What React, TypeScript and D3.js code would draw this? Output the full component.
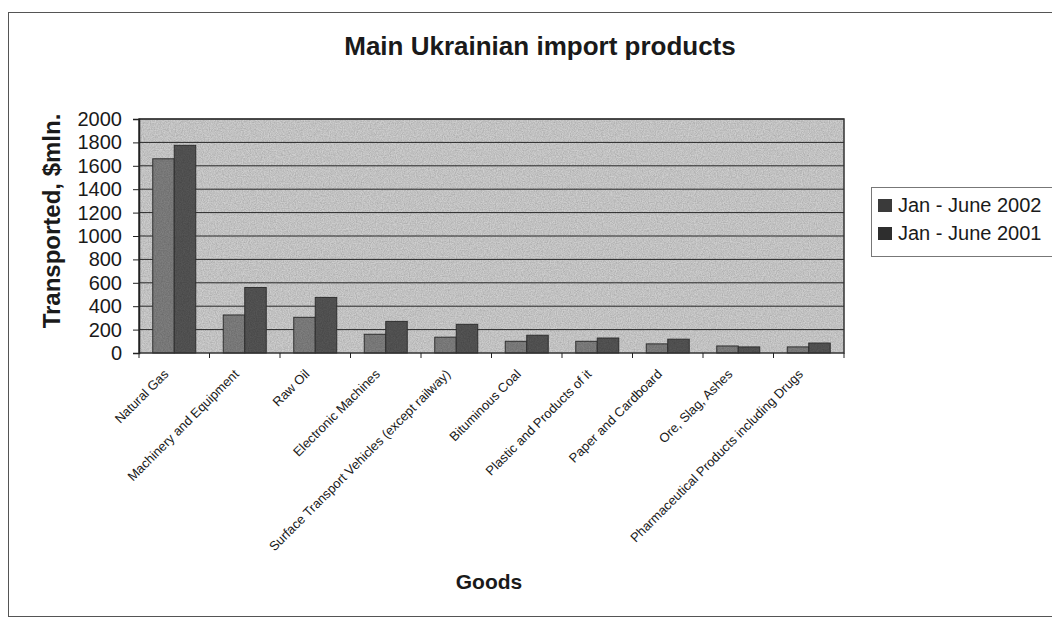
import { useEffect, useRef } from "react";
import * as d3 from "d3";

const categories = [
  "Natural Gas",
  "Machinery and Equipment",
  "Raw Oil",
  "Electronic Machines",
  "Surface Transport Vehicles (except railway)",
  "Bituminous Coal",
  "Plastic and Products of it",
  "Paper and Cardboard",
  "Ore, Slag, Ashes",
  "Pharmaceutical Products including Drugs",
];
const seriesNames = ["Jan - June 2002", "Jan - June 2001"];
const values2002 = [1660, 325, 305, 160, 135, 100, 100, 78, 60, 52];
const values2001 = [1775, 560, 475, 270, 245, 152, 128, 118, 52, 85];
const yTicks = [0, 200, 400, 600, 800, 1000, 1200, 1400, 1600, 1800, 2000];

const FONT = "'Liberation Sans', Arial, sans-serif";
const W = 1052;
const H = 620;

function App() {
  const ref = useRef<SVGSVGElement>(null);

  useEffect(() => {
    const svg = d3.select(ref.current);
    svg.selectAll("*").remove();

    const left = 139, right = 844, top = 119, bottom = 353;
    const x = d3.scaleBand().domain(categories).range([left, right]).padding(0);
    const xs = d3.scaleBand().domain(seriesNames).range([0, x.step()]).paddingInner(0).paddingOuter(0.64);
    const y = d3.scaleLinear().domain([0, 2000]).range([bottom, top]);
    const colors = ["#808080", "#555555"];
    const data = [values2002, values2001];

    // noise for the scanned look
    const defs = svg.append("defs");
    const f = defs.append("filter").attr("id", "noise").attr("x", 0).attr("y", 0).attr("width", "100%").attr("height", "100%");
    f.append("feTurbulence").attr("type", "fractalNoise").attr("baseFrequency", 0.85).attr("numOctaves", 2).attr("seed", 4);
    f.append("feColorMatrix").attr("type", "matrix")
      .attr("values", "0 0 0 0 0  0 0 0 0 0  0 0 0 0 0  0 0 0 -1.2 0.9");

    // outer frame
    svg.append("rect").attr("x", 8.5).attr("y", 12.5).attr("width", W).attr("height", 604)
      .attr("fill", "#fff").attr("stroke", "#555");

    svg.append("text").attr("x", 540).attr("y", 55).attr("text-anchor", "middle")
      .style("font", `bold 26px ${FONT}`).attr("fill", "#1a1a1a").text("Main Ukrainian import products");

    // plot area
    svg.append("rect").attr("x", left).attr("y", top).attr("width", right - left).attr("height", bottom - top)
      .attr("fill", "#cfcfcf");

    svg.append("g").selectAll("line").data(yTicks.slice(1)).join("line")
      .attr("x1", left).attr("x2", right).attr("y1", d => y(d)).attr("y2", d => y(d))
      .attr("stroke", "#2a2a2a").attr("stroke-width", 1);

    const groups = svg.append("g").selectAll("g").data(data).join("g").attr("fill", (_, i) => colors[i]);
    groups.each(function (vals, si) {
      d3.select(this).selectAll("rect").data(vals).join("rect")
        .attr("x", (_, i) => x(categories[i])! + xs(seriesNames[si])!)
        .attr("width", xs.bandwidth())
        .attr("y", d => y(d))
        .attr("height", d => bottom - y(d))
        .attr("stroke", "#333").attr("stroke-width", 1);
    });

    svg.append("rect").attr("x", left).attr("y", top).attr("width", right - left).attr("height", bottom - top)
      .attr("filter", "url(#noise)").attr("opacity", 0.22);

    svg.append("rect").attr("x", left).attr("y", top).attr("width", right - left).attr("height", bottom - top)
      .attr("fill", "none").attr("stroke", "#333").attr("stroke-width", 1.5);

    // y axis
    const yAxis = svg.append("g").attr("transform", `translate(${left},0)`)
      .call(d3.axisLeft(y).tickValues(yTicks).tickFormat(d3.format("d")).tickSize(6).tickPadding(11));
    yAxis.select(".domain").attr("stroke", "#222").attr("stroke-width", 1.5);
    yAxis.selectAll("line").attr("stroke", "#222");
    yAxis.selectAll("text").style("font", `20px ${FONT}`).attr("fill", "#1a1a1a");

    // x axis ticks at category boundaries
    svg.append("g").selectAll("line").data(d3.range(categories.length + 1)).join("line")
      .attr("x1", i => left + i * x.step()).attr("x2", i => left + i * x.step())
      .attr("y1", bottom).attr("y2", bottom + 5).attr("stroke", "#222");

    svg.append("g").selectAll("text").data(categories).join("text")
      .attr("transform", d => `translate(${x(d)! + x.step() / 2 - 5},${bottom + 22}) rotate(-45)`)
      .attr("text-anchor", "end")
      .style("font", `13px ${FONT}`).attr("fill", "#1a1a1a")
      .text(d => d);

    svg.append("text").attr("transform", `translate(60,221) rotate(-90)`)
      .attr("text-anchor", "middle").style("font", `bold 24px ${FONT}`).attr("fill", "#1a1a1a")
      .text("Transported, $mln.");

    svg.append("text").attr("x", 489).attr("y", 589).attr("text-anchor", "middle")
      .style("font", `bold 21px ${FONT}`).attr("fill", "#1a1a1a").text("Goods");

    // legend
    const lg = svg.append("g").attr("transform", "translate(871,187)");
    lg.append("rect").attr("x", 0.5).attr("y", 0.5).attr("width", 200).attr("height", 69)
      .attr("fill", "#fff").attr("stroke", "#777");
    seriesNames.forEach((s, i) => {
      lg.append("rect").attr("x", 7).attr("y", 12 + i * 28).attr("width", 14).attr("height", 13)
        .attr("fill", i === 0 ? "#3a3a3a" : "#2e2e2e");
      lg.append("text").attr("x", 27).attr("y", 25 + i * 28)
        .style("font", `20px ${FONT}`).attr("fill", "#1a1a1a").text(s);
    });
  }, []);

  return (
    <svg ref={ref} width={W} height={H}
      style={{ position: "absolute", left: 0, top: 0, display: "block", background: "#fff" }} />
  );
}

export default App;
